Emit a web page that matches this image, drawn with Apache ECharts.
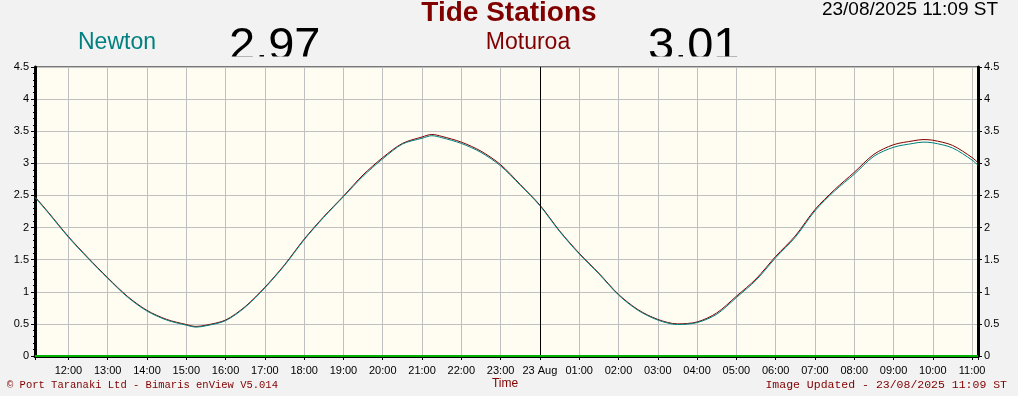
<!DOCTYPE html>
<html><head><meta charset="utf-8">
<script src="https://cdn.jsdelivr.net/npm/echarts@6/dist/echarts.min.js"></script>
<style>html,body{margin:0;padding:0;background:#f2f2f2}#c{width:1018px;height:396px}</style>
</head><body><div id="c"></div>
<script>
const times = [
 '2025-08-22 11:09','2025-08-22 11:30','2025-08-22 12:00','2025-08-22 12:30','2025-08-22 13:00','2025-08-22 13:30',
 '2025-08-22 14:00','2025-08-22 14:30','2025-08-22 15:00','2025-08-22 15:15','2025-08-22 15:30','2025-08-22 16:00',
 '2025-08-22 16:30','2025-08-22 17:00','2025-08-22 17:30','2025-08-22 18:00','2025-08-22 18:30','2025-08-22 19:00',
 '2025-08-22 19:30','2025-08-22 20:00','2025-08-22 20:30','2025-08-22 21:00','2025-08-22 21:15','2025-08-22 21:30',
 '2025-08-22 22:00','2025-08-22 22:30','2025-08-22 23:00','2025-08-22 23:30','2025-08-23 00:00','2025-08-23 00:30',
 '2025-08-23 01:00','2025-08-23 01:30','2025-08-23 02:00','2025-08-23 02:30','2025-08-23 03:00','2025-08-23 03:30',
 '2025-08-23 04:00','2025-08-23 04:30','2025-08-23 05:00','2025-08-23 05:30','2025-08-23 06:00','2025-08-23 06:30',
 '2025-08-23 07:00','2025-08-23 07:30','2025-08-23 08:00','2025-08-23 08:30','2025-08-23 09:00','2025-08-23 09:30',
 '2025-08-23 09:45','2025-08-23 10:00','2025-08-23 10:30','2025-08-23 11:00','2025-08-23 11:09'
];
const newton = [
 2.47,2.22,1.85,1.52,1.21,0.92,
 0.70,0.56,0.48,0.45,0.47,0.55,
 0.76,1.06,1.41,1.81,2.16,2.48,
 2.80,3.07,3.30,3.39,3.43,3.40,
 3.31,3.17,2.96,2.66,2.34,1.94,
 1.59,1.28,0.95,0.71,0.56,0.49,
 0.52,0.65,0.91,1.18,1.53,1.85,
 2.26,2.57,2.83,3.11,3.25,3.31,
 3.33,3.32,3.24,3.05,2.97
];
const moturoa = [
 2.48,2.23,1.86,1.53,1.22,0.93,
 0.71,0.57,0.49,0.46,0.48,0.56,
 0.77,1.07,1.42,1.82,2.17,2.49,
 2.82,3.09,3.31,3.41,3.45,3.42,
 3.33,3.19,2.98,2.67,2.35,1.95,
 1.60,1.29,0.96,0.72,0.57,0.50,
 0.53,0.67,0.93,1.20,1.55,1.87,
 2.28,2.59,2.86,3.14,3.29,3.35,
 3.37,3.36,3.28,3.09,3.01
];
const stationNames = ['Newton','Moturoa'];
const currentValues = ['2.97','3.01'];
const titleText = 'Tide Stations';
const stampText = '23/08/2025 11:09 ST';
const footerLeft = '\u00A9 Port Taranaki Ltd - Bimaris enView V5.014';
const footerRight = 'Image Updated - 23/08/2025 11:09 ST';
const axisTitle = 'Time';
const xStart = '2025-08-22 11:09', xEnd = '2025-08-23 11:09', dayMark = '2025-08-23 00:00';
const monthName = 'Aug';
const yMin = 0, yMax = 4.5, yStep = 0.5;

function toMs(s){ return +new Date(s.replace(' ','T')); }
function pad(n){ return (n<10?'0':'')+n; }

const chart = echarts.init(document.getElementById('c'), null, {renderer:'canvas'});
const sans = 'Liberation Sans, Arial, sans-serif';
const mono = 'Liberation Mono, Courier New, monospace';
const yAxisBase = {
  type:'value', min:yMin, max:yMax, interval:yStep,
  axisLine:{show:true, onZero:false, lineStyle:{color:'#000', width:3}},
  axisTick:{show:true, length:4, lineStyle:{color:'#000'}},
  minorTick:{show:true, splitNumber:5, length:2, lineStyle:{color:'#000'}},
  axisLabel:{color:'#000', fontSize:11, fontFamily:sans, margin:6}
};
chart.setOption({
  animation:false,
  backgroundColor:'#f2f2f2',
  grid:{left:35, right:40, top:67, bottom:40, show:true, backgroundColor:'#fffcf2', borderColor:'#000', borderWidth:1},
  xAxis:{
    type:'time', min:toMs(xStart), max:toMs(xEnd),
    minInterval:3600000, maxInterval:3600000, splitNumber:24,
    axisLine:{onZero:false, lineStyle:{color:'#000', width:3}},
    axisTick:{show:true, length:4, lineStyle:{color:'#000'}},
    minorTick:{show:true, splitNumber:4, length:2, lineStyle:{color:'#000'}},
    splitLine:{show:true, lineStyle:{color:'#c0c0c0', width:1}},
    axisLabel:{color:'#000', fontSize:11, fontFamily:sans, margin:9, hideOverlap:false,
      formatter:function(v){ const d=new Date(v); if(d.getHours()===0) return d.getDate()+' '+monthName; return pad(d.getHours())+':00'; }}
  },
  yAxis:[
    Object.assign({}, yAxisBase, {position:'left', splitLine:{show:true, lineStyle:{color:'#c0c0c0', width:1}}}),
    Object.assign({}, yAxisBase, {position:'right', splitLine:{show:false}})
  ],
  series:[
    {name:stationNames[1], type:'line', data:times.map((t,i)=>[toMs(t), moturoa[i]]), showSymbol:false, symbol:'none', smooth:0.3,
     lineStyle:{color:'#800000', width:1}, z:3,
     markLine:{silent:true, symbol:'none', label:{show:false},
       data:[{xAxis:toMs(dayMark), lineStyle:{color:'#000', width:1, type:'solid'}},
             {yAxis:0, lineStyle:{color:'#00b000', width:2, type:'solid'}}]}},
    {name:stationNames[0], type:'line', data:times.map((t,i)=>[toMs(t), newton[i]]), showSymbol:false, symbol:'none', smooth:0.3,
     lineStyle:{color:'#008080', width:1}, z:4}
  ],
  graphic:[
    {type:'text', x:509, y:13, z:10, style:{text:titleText, font:'bold 28px '+sans, fill:'#800000', align:'center', verticalAlign:'middle'}},
    {type:'text', x:117, y:43, z:10, style:{text:stationNames[0], font:'23px '+sans, fill:'#008080', align:'center', verticalAlign:'middle'}},
    {type:'text', x:528, y:43, z:10, style:{text:stationNames[1], font:'23px '+sans, fill:'#800000', align:'center', verticalAlign:'middle'}},
    {type:'text', x:229, y:47, z:10, style:{text:currentValues[0], font:'47px '+sans, fill:'#000', align:'left', verticalAlign:'middle'}},
    {type:'text', x:648, y:47, z:10, style:{text:currentValues[1], font:'47px '+sans, fill:'#000', align:'left', verticalAlign:'middle'}},
    {type:'rect', z:20, shape:{x:222, y:56.5, width:106, height:9.5}, style:{fill:'#f2f2f2'}},
    {type:'rect', z:20, shape:{x:642, y:56.5, width:106, height:9.5}, style:{fill:'#f2f2f2'}},
    {type:'text', x:998, y:10, z:10, style:{text:stampText, font:'19px '+sans, fill:'#000', align:'right', verticalAlign:'middle'}},
    {type:'text', x:7, y:385, z:10, style:{text:footerLeft, font:'10.5px '+mono, fill:'#800000', align:'left', verticalAlign:'middle'}},
    {type:'text', x:1007, y:385, z:10, style:{text:footerRight, font:'11.5px '+mono, fill:'#800000', align:'right', verticalAlign:'middle'}},
    {type:'text', x:505, y:384, z:10, style:{text:axisTitle, font:'12px '+sans, fill:'#800000', align:'center', verticalAlign:'middle'}}
  ]
});
</script></body></html>
